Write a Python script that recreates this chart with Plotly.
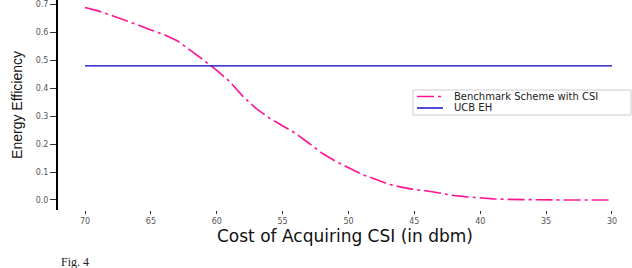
import plotly.graph_objects as go

cost = [70, 69, 68, 67, 66, 65, 64, 63, 62, 61, 60, 59, 58, 57, 56, 55, 54, 53, 52, 51,
        50, 49, 48, 47, 46, 45, 44, 43, 42, 41, 40, 39, 38, 37, 36, 35, 34, 33, 32, 31, 30]
benchmark = [0.689, 0.677, 0.661, 0.645, 0.627, 0.609, 0.592, 0.570, 0.537, 0.501,
             0.464, 0.423, 0.370, 0.327, 0.293, 0.267, 0.238, 0.203, 0.167, 0.139,
             0.114, 0.092, 0.075, 0.057, 0.046, 0.037, 0.032, 0.023, 0.016, 0.011,
             0.007, 0.004, 0.002, 0.001, 0.0005, 0.0, 0.0, 0.0, 0.0, 0.0, 0.0]
ucb_value = 0.48
ucb = [ucb_value] * len(cost)
x_ticks = [70, 65, 60, 55, 50, 45, 40, 35, 30]
y_ticks = [0.0, 0.1, 0.2, 0.3, 0.4, 0.5, 0.6, 0.7]
series_names = ["Benchmark Scheme with CSI", "UCB EH"]
series_colors = ["#ff1493", "#0000c8"]
bench_dash = "17px,4px,3px,4px"

W, H = 632, 268
L, R, T, B = 58, 0, 0, 58
PW, PH = W - L - R, H - T - B


def px(xp):
    return (xp - L) / PW


def py(yp):
    return 1 - (yp - T) / PH


fig = go.Figure()
fig.add_trace(go.Scatter(x=cost, y=benchmark, mode="lines", name=series_names[0],
                         line=dict(color=series_colors[0], width=1.6, dash=bench_dash)))
fig.add_trace(go.Scatter(x=cost, y=ucb, mode="lines", name=series_names[1],
                         line=dict(color=series_colors[1], width=1.2)))

fig.update_layout(
    width=W, height=H,
    margin=dict(l=L, r=R, t=T, b=B),
    paper_bgcolor="white", plot_bgcolor="white",
    font=dict(family="DejaVu Sans", color="#333"),
    showlegend=False,
    xaxis=dict(range=[72.05, 28.48], tickvals=x_ticks, ticktext=[str(v) for v in x_ticks],
               showgrid=False, zeroline=False, showline=False, automargin=False,
               ticks="outside", ticklen=3, tickcolor="#333", tickwidth=1,
               tickfont=dict(size=8, color="#555"),
               title=dict(text="Cost of Acquiring CSI (in dbm)", standoff=3,
                          font=dict(size=17, color="#111"))),
    yaxis=dict(range=[-0.036, 0.716], tickvals=y_ticks, tickformat=".1f",
               showgrid=False, zeroline=False, showline=True, linecolor="black", linewidth=2,
               automargin=False,
               ticks="outside", ticklen=6, tickcolor="#333", tickwidth=1,
               tickfont=dict(size=8, color="#555"),
               title=dict(text="Energy Efficiency", standoff=10,
                          font=dict(family="Liberation Sans", size=14, color="#111"))),
)

# legend box drawn by hand to match the compact original
fig.add_shape(type="rect", xref="paper", yref="paper",
              x0=px(413), x1=px(631), y0=py(115), y1=py(90),
              line=dict(color="#cccccc", width=1), fillcolor="white", layer="above")
item_y = [96.5, 108]
for i in range(2):
    fig.add_shape(type="line", xref="paper", yref="paper",
                  x0=px(417), x1=px(443), y0=py(item_y[i]), y1=py(item_y[i]),
                  line=dict(color=series_colors[i], width=1.4,
                            dash=bench_dash if i == 0 else "solid"),
                  layer="above")
    fig.add_annotation(text=series_names[i], xref="paper", yref="paper",
                       x=px(453), y=py(item_y[i]), xanchor="left", yanchor="middle",
                       showarrow=False, borderpad=0,
                       font=dict(size=10, color="#222"))

fig.add_annotation(text="Fig. 4", xref="paper", yref="paper", x=px(60), y=py(254),
                   xanchor="left", yanchor="top", showarrow=False, borderpad=0,
                   font=dict(family="Liberation Serif", size=12, color="#222"))
fig.write_html("out.html", config={"displayModeBar": False},
               post_script="document.body.style.margin='0';")
